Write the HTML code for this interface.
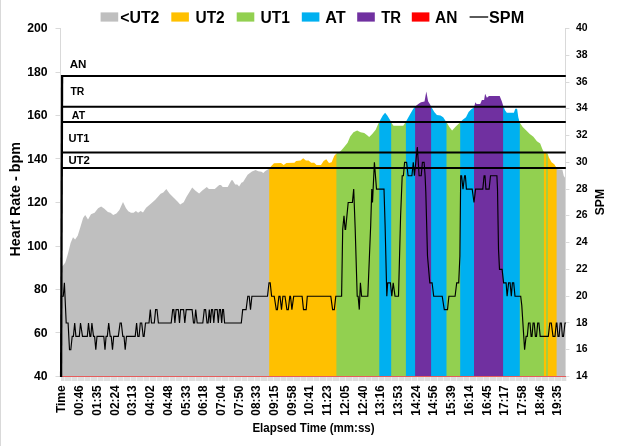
<!DOCTYPE html>
<html lang="en"><head><meta charset="utf-8"><title>Heart Rate and SPM by Elapsed Time</title>
<style>html,body{margin:0;padding:0;background:#fff;}body{width:620px;height:446px;overflow:hidden;}svg{display:block;}text{font-family:"Liberation Sans",sans-serif;font-weight:bold;fill:#000;}</style></head><body>
<svg width="620" height="446" viewBox="0 0 620 446">
<rect x="0" y="0" width="620" height="446" fill="#fff"/>
<rect x="0" y="0" width="1" height="446" fill="#d9d9d9"/>
<defs><mask id="hrmask" maskUnits="userSpaceOnUse" x="0" y="0" width="620" height="446"><polygon points="62.0,266.5 63.5,265.1 65.3,262.4 68.0,253.6 70.6,242.9 73.0,237.2 75.1,239.4 77.7,235.8 80.4,226.9 83.1,218.1 85.2,215.0 88.0,219.5 91.0,214.2 94.6,212.7 98.1,208.3 101.2,206.5 104.4,208.8 107.9,211.9 110.6,212.7 113.2,214.9 116.4,213.6 119.4,210.1 123.0,202.1 126.0,208.3 128.3,211.3 131.0,212.7 133.6,212.7 135.9,211.0 138.1,212.7 140.7,211.0 143.0,212.4 146.1,207.8 150.5,203.9 155.3,199.7 160.6,193.8 163.3,192.6 166.3,189.0 169.5,193.5 174.0,197.9 177.5,201.5 180.2,204.6 183.7,202.3 186.4,197.0 192.2,187.6 195.2,190.5 199.1,193.5 202.3,190.5 206.8,186.9 208.9,189.0 214.8,189.0 219.2,185.0 221.0,185.0 222.7,186.9 227.7,186.9 231.4,180.3 232.6,180.3 235.2,184.6 237.3,184.6 239.1,186.4 241.4,182.8 243.1,181.9 247.6,174.8 252.0,171.6 255.6,169.9 258.2,171.3 261.5,171.7 263.3,173.0 265.0,171.2 267.7,169.4 269.2,168.5 271.3,165.9 274.0,163.2 281.0,162.9 283.7,165.0 286.4,162.9 294.4,162.7 296.1,161.1 300.6,160.6 303.2,158.3 305.9,160.6 308.6,160.6 311.2,162.7 314.2,162.7 316.5,165.0 321.0,165.0 323.6,161.1 326.3,159.3 329.0,162.9 331.6,162.3 334.3,155.8 336.4,153.5 340.5,151.2 344.0,147.3 347.6,142.8 350.2,136.6 353.5,132.3 357.1,130.6 360.6,132.3 364.2,132.9 366.9,135.0 369.2,137.1 372.2,134.1 375.7,129.7 378.4,123.5 379.3,121.7 382.8,115.5 385.1,112.8 387.3,115.5 390.5,120.8 391.2,122.6 393.5,125.8 403.2,125.8 405.9,121.7 409.4,115.5 413.0,109.3 415.1,106.6 418.3,104.0 421.0,102.2 424.5,101.6 426.3,91.5 428.1,101.3 429.8,104.0 431.1,106.6 434.3,111.9 436.9,115.1 440.5,115.5 443.2,117.3 445.8,121.2 446.7,122.6 449.4,127.0 452.1,130.6 455.3,127.0 458.9,123.5 460.1,122.6 462.4,119.9 466.0,117.3 468.6,111.9 471.3,109.3 474.0,107.5 475.4,102.2 476.6,104.0 480.2,104.0 481.9,99.9 484.1,99.9 485.1,93.8 486.9,97.7 489.0,96.0 499.7,96.0 501.8,101.3 503.2,105.7 505.0,110.2 506.8,112.8 513.9,112.8 515.3,108.7 517.1,108.7 518.3,117.3 519.7,122.6 522.7,127.0 526.3,130.6 529.8,134.1 533.4,136.8 536.9,141.2 540.2,143.5 542.2,148.8 543.9,152.2 547.6,153.5 548.9,157.6 551.6,162.3 554.3,164.3 556.6,168.0 557.7,169.3 562.4,169.7 563.7,175.7 565.8,179.1 566.0,180.0 566.0,376.5 62.0,376.5" fill="#fff"/></mask></defs>
<g mask="url(#hrmask)">
<rect x="62.0" y="85" width="505.0" height="293" fill="#bfbfbf"/>
<rect x="269.2" y="85" width="297.8" height="293" fill="#ffc000"/>
<rect x="336.4" y="85" width="230.6" height="293" fill="#92d050"/>
<rect x="379.3" y="85" width="187.7" height="293" fill="#00b0f0"/>
<rect x="391.2" y="85" width="175.8" height="293" fill="#92d050"/>
<rect x="405.9" y="85" width="161.1" height="293" fill="#00b0f0"/>
<rect x="415.1" y="85" width="151.9" height="293" fill="#7030a0"/>
<rect x="431.1" y="85" width="135.9" height="293" fill="#00b0f0"/>
<rect x="446.5" y="85" width="120.5" height="293" fill="#92d050"/>
<rect x="460.2" y="85" width="106.8" height="293" fill="#00b0f0"/>
<rect x="474.0" y="85" width="93.0" height="293" fill="#7030a0"/>
<rect x="503.1" y="85" width="63.9" height="293" fill="#00b0f0"/>
<rect x="519.8" y="85" width="47.2" height="293" fill="#92d050"/>
<rect x="543.9" y="85" width="23.1" height="293" fill="#ffc000"/>
<rect x="546.2" y="85" width="20.8" height="293" fill="#92d050"/>
<rect x="547.8" y="85" width="19.2" height="293" fill="#ffc000"/>
<rect x="556.6" y="85" width="10.4" height="293" fill="#bfbfbf"/>
</g>
<g stroke="#d9d9d9" stroke-width="1" fill="none">
<line x1="60.5" y1="28.0" x2="60.5" y2="377.0"/>
<line x1="55.5" y1="376.5" x2="61" y2="376.5"/>
<line x1="55.5" y1="332.5" x2="61" y2="332.5"/>
<line x1="55.5" y1="289.5" x2="61" y2="289.5"/>
<line x1="55.5" y1="246.5" x2="61" y2="246.5"/>
<line x1="55.5" y1="202.5" x2="61" y2="202.5"/>
<line x1="55.5" y1="158.5" x2="61" y2="158.5"/>
<line x1="55.5" y1="115.5" x2="61" y2="115.5"/>
<line x1="55.5" y1="72.5" x2="61" y2="72.5"/>
<line x1="55.5" y1="28.5" x2="61" y2="28.5"/>
<line x1="565.5" y1="28.0" x2="565.5" y2="377.0"/>
<line x1="565" y1="376.5" x2="569.4" y2="376.5"/>
<line x1="565" y1="349.5" x2="569.4" y2="349.5"/>
<line x1="565" y1="322.5" x2="569.4" y2="322.5"/>
<line x1="565" y1="296.5" x2="569.4" y2="296.5"/>
<line x1="565" y1="269.5" x2="569.4" y2="269.5"/>
<line x1="565" y1="242.5" x2="569.4" y2="242.5"/>
<line x1="565" y1="215.5" x2="569.4" y2="215.5"/>
<line x1="565" y1="189.5" x2="569.4" y2="189.5"/>
<line x1="565" y1="162.5" x2="569.4" y2="162.5"/>
<line x1="565" y1="135.5" x2="569.4" y2="135.5"/>
<line x1="565" y1="108.5" x2="569.4" y2="108.5"/>
<line x1="565" y1="82.5" x2="569.4" y2="82.5"/>
<line x1="565" y1="55.5" x2="569.4" y2="55.5"/>
<line x1="565" y1="28.5" x2="569.4" y2="28.5"/>
</g>
<rect x="61" y="377" width="505.5" height="4" fill="#ececec"/>
<path d="M61.5 377V381M62.5 377V381M63.5 377V381M65.5 377V381M66.5 377V381M67.5 377V381M68.5 377V381M69.5 377V381M70.5 377V381M72.5 377V381M73.5 377V381M74.5 377V381M75.5 377V381M76.5 377V381M78.5 377V381M79.5 377V381M80.5 377V381M81.5 377V381M82.5 377V381M83.5 377V381M85.5 377V381M86.5 377V381M87.5 377V381M88.5 377V381M89.5 377V381M91.5 377V381M92.5 377V381M93.5 377V381M94.5 377V381M95.5 377V381M96.5 377V381M98.5 377V381M99.5 377V381M100.5 377V381M101.5 377V381M102.5 377V381M104.5 377V381M105.5 377V381M106.5 377V381M107.5 377V381M108.5 377V381M109.5 377V381M111.5 377V381M112.5 377V381M113.5 377V381M114.5 377V381M115.5 377V381M116.5 377V381M118.5 377V381M119.5 377V381M120.5 377V381M121.5 377V381M122.5 377V381M124.5 377V381M125.5 377V381M126.5 377V381M127.5 377V381M128.5 377V381M129.5 377V381M131.5 377V381M132.5 377V381M133.5 377V381M134.5 377V381M135.5 377V381M137.5 377V381M138.5 377V381M139.5 377V381M140.5 377V381M141.5 377V381M142.5 377V381M144.5 377V381M145.5 377V381M146.5 377V381M147.5 377V381M148.5 377V381M150.5 377V381M151.5 377V381M152.5 377V381M153.5 377V381M154.5 377V381M155.5 377V381M157.5 377V381M158.5 377V381M159.5 377V381M160.5 377V381M161.5 377V381M163.5 377V381M164.5 377V381M165.5 377V381M166.5 377V381M167.5 377V381M168.5 377V381M170.5 377V381M171.5 377V381M172.5 377V381M173.5 377V381M174.5 377V381M176.5 377V381M177.5 377V381M178.5 377V381M179.5 377V381M180.5 377V381M181.5 377V381M183.5 377V381M184.5 377V381M185.5 377V381M186.5 377V381M187.5 377V381M189.5 377V381M190.5 377V381M191.5 377V381M192.5 377V381M193.5 377V381M194.5 377V381M196.5 377V381M197.5 377V381M198.5 377V381M199.5 377V381M200.5 377V381M201.5 377V381M203.5 377V381M204.5 377V381M205.5 377V381M206.5 377V381M207.5 377V381M209.5 377V381M210.5 377V381M211.5 377V381M212.5 377V381M213.5 377V381M214.5 377V381M216.5 377V381M217.5 377V381M218.5 377V381M219.5 377V381M220.5 377V381M222.5 377V381M223.5 377V381M224.5 377V381M225.5 377V381M226.5 377V381M227.5 377V381M229.5 377V381M230.5 377V381M231.5 377V381M232.5 377V381M233.5 377V381M235.5 377V381M236.5 377V381M237.5 377V381M238.5 377V381M239.5 377V381M240.5 377V381M242.5 377V381M243.5 377V381M244.5 377V381M245.5 377V381M246.5 377V381M248.5 377V381M249.5 377V381M250.5 377V381M251.5 377V381M252.5 377V381M253.5 377V381M255.5 377V381M256.5 377V381M257.5 377V381M258.5 377V381M259.5 377V381M261.5 377V381M262.5 377V381M263.5 377V381M264.5 377V381M265.5 377V381M266.5 377V381M268.5 377V381M269.5 377V381M270.5 377V381M271.5 377V381M272.5 377V381M274.5 377V381M275.5 377V381M276.5 377V381M277.5 377V381M278.5 377V381M279.5 377V381M281.5 377V381M282.5 377V381M283.5 377V381M284.5 377V381M285.5 377V381M287.5 377V381M288.5 377V381M289.5 377V381M290.5 377V381M291.5 377V381M292.5 377V381M294.5 377V381M295.5 377V381M296.5 377V381M297.5 377V381M298.5 377V381M299.5 377V381M301.5 377V381M302.5 377V381M303.5 377V381M304.5 377V381M305.5 377V381M307.5 377V381M308.5 377V381M309.5 377V381M310.5 377V381M311.5 377V381M312.5 377V381M314.5 377V381M315.5 377V381M316.5 377V381M317.5 377V381M318.5 377V381M320.5 377V381M321.5 377V381M322.5 377V381M323.5 377V381M324.5 377V381M325.5 377V381M327.5 377V381M328.5 377V381M329.5 377V381M330.5 377V381M331.5 377V381M333.5 377V381M334.5 377V381M335.5 377V381M336.5 377V381M337.5 377V381M338.5 377V381M340.5 377V381M341.5 377V381M342.5 377V381M343.5 377V381M344.5 377V381M346.5 377V381M347.5 377V381M348.5 377V381M349.5 377V381M350.5 377V381M351.5 377V381M353.5 377V381M354.5 377V381M355.5 377V381M356.5 377V381M357.5 377V381M359.5 377V381M360.5 377V381M361.5 377V381M362.5 377V381M363.5 377V381M364.5 377V381M366.5 377V381M367.5 377V381M368.5 377V381M369.5 377V381M370.5 377V381M372.5 377V381M373.5 377V381M374.5 377V381M375.5 377V381M376.5 377V381M377.5 377V381M379.5 377V381M380.5 377V381M381.5 377V381M382.5 377V381M383.5 377V381M385.5 377V381M386.5 377V381M387.5 377V381M388.5 377V381M389.5 377V381M390.5 377V381M392.5 377V381M393.5 377V381M394.5 377V381M395.5 377V381M396.5 377V381M397.5 377V381M399.5 377V381M400.5 377V381M401.5 377V381M402.5 377V381M403.5 377V381M405.5 377V381M406.5 377V381M407.5 377V381M408.5 377V381M409.5 377V381M410.5 377V381M412.5 377V381M413.5 377V381M414.5 377V381M415.5 377V381M416.5 377V381M418.5 377V381M419.5 377V381M420.5 377V381M421.5 377V381M422.5 377V381M423.5 377V381M425.5 377V381M426.5 377V381M427.5 377V381M428.5 377V381M429.5 377V381M431.5 377V381M432.5 377V381M433.5 377V381M434.5 377V381M435.5 377V381M436.5 377V381M438.5 377V381M439.5 377V381M440.5 377V381M441.5 377V381M442.5 377V381M444.5 377V381M445.5 377V381M446.5 377V381M447.5 377V381M448.5 377V381M449.5 377V381M451.5 377V381M452.5 377V381M453.5 377V381M454.5 377V381M455.5 377V381M457.5 377V381M458.5 377V381M459.5 377V381M460.5 377V381M461.5 377V381M462.5 377V381M464.5 377V381M465.5 377V381M466.5 377V381M467.5 377V381M468.5 377V381M470.5 377V381M471.5 377V381M472.5 377V381M473.5 377V381M474.5 377V381M475.5 377V381M477.5 377V381M478.5 377V381M479.5 377V381M480.5 377V381M481.5 377V381M482.5 377V381M484.5 377V381M485.5 377V381M486.5 377V381M487.5 377V381M488.5 377V381M490.5 377V381M491.5 377V381M492.5 377V381M493.5 377V381M494.5 377V381M495.5 377V381M497.5 377V381M498.5 377V381M499.5 377V381M500.5 377V381M501.5 377V381M503.5 377V381M504.5 377V381M505.5 377V381M506.5 377V381M507.5 377V381M508.5 377V381M510.5 377V381M511.5 377V381M512.5 377V381M513.5 377V381M514.5 377V381M516.5 377V381M517.5 377V381M518.5 377V381M519.5 377V381M520.5 377V381M521.5 377V381M523.5 377V381M524.5 377V381M525.5 377V381M526.5 377V381M527.5 377V381M529.5 377V381M530.5 377V381M531.5 377V381M532.5 377V381M533.5 377V381M534.5 377V381M536.5 377V381M537.5 377V381M538.5 377V381M539.5 377V381M540.5 377V381M542.5 377V381M543.5 377V381M544.5 377V381M545.5 377V381M546.5 377V381M547.5 377V381M549.5 377V381M550.5 377V381M551.5 377V381M552.5 377V381M553.5 377V381M555.5 377V381M556.5 377V381M557.5 377V381M558.5 377V381M559.5 377V381M560.5 377V381M562.5 377V381M563.5 377V381M564.5 377V381M565.5 377V381" stroke="#dedede" stroke-width="1" fill="none" shape-rendering="crispEdges"/>
<line x1="61" y1="376.5" x2="566" y2="376.5" stroke="#e65c5c" stroke-width="1"/>
<g stroke="#000" stroke-width="2" fill="none">
<line x1="61.2" y1="75.9" x2="565.8" y2="75.9"/>
<line x1="61.2" y1="106.7" x2="565.8" y2="106.7"/>
<line x1="61.2" y1="122.0" x2="565.8" y2="122.0"/>
<line x1="61.2" y1="152.5" x2="565.8" y2="152.5"/>
<line x1="61.2" y1="168.1" x2="565.8" y2="168.1"/>
<line x1="62.1" y1="74.9" x2="61.1" y2="377" stroke-width="2.3"/>
</g>
<polyline points="61.9,296.2 63.3,296.2 64.4,282.8 66.2,323.0 68.1,323.0 69.5,349.7 70.8,349.7 72.2,336.3 73.4,336.3 74.7,323.0 75.9,336.3 79.3,336.3 80.5,323.0 82.5,336.3 87.3,336.3 88.5,323.0 89.9,336.3 90.8,336.3 91.9,323.0 93.5,336.3 94.6,336.3 95.8,349.7 97.0,336.3 103.8,336.3 105.0,349.7 106.1,336.3 107.3,336.3 108.7,323.0 110.2,336.3 111.2,336.3 112.5,349.7 113.7,336.3 118.3,336.3 120.1,323.0 121.3,323.0 122.8,336.3 124.0,336.3 125.2,349.7 126.5,336.3 135.2,336.3 136.6,323.0 137.8,336.3 139.1,336.3 140.3,323.0 141.7,323.0 143.2,336.3 144.1,336.3 145.5,323.0 149.0,323.0 150.3,309.6 151.5,323.0 154.3,323.0 155.6,309.6 157.0,309.6 158.4,323.0 165.0,323.0 165.0,323.0 171.2,323.0 172.7,309.6 173.8,309.6 174.9,323.0 176.1,309.6 178.3,309.6 179.5,323.0 180.6,309.6 183.6,309.6 184.8,323.0 186.2,309.6 192.1,309.6 193.5,323.0 194.6,323.0 195.7,309.6 197.2,323.0 202.8,323.0 204.3,309.6 205.6,309.6 207.0,323.0 208.1,323.0 209.3,309.6 210.4,323.0 211.5,309.6 212.6,309.6 213.8,323.0 214.9,309.6 217.2,309.6 218.3,323.0 219.4,309.6 220.5,309.6 221.7,323.0 222.6,309.6 223.5,309.6 224.6,323.0 224.8,323.0 241.3,323.0 242.7,309.6 246.1,309.6 247.8,296.2 249.2,296.2 250.5,309.6 251.9,296.2 265.7,296.2 267.5,296.2 269.0,282.8 270.2,282.8 271.6,296.2 274.2,296.2 276.3,309.6 277.4,309.6 278.9,296.2 280.0,296.2 281.5,309.6 282.9,296.2 285.0,296.2 286.9,309.6 288.3,309.6 289.8,296.2 290.5,296.2 291.9,309.6 293.7,296.2 302.1,296.2 303.5,309.6 306.2,309.6 307.3,296.2 330.8,296.2 332.6,309.6 334.3,309.6 335.8,296.2 341.6,296.2 342.7,229.3 344.0,215.9 345.1,229.3 345.6,229.3 348.2,202.5 352.4,202.5 353.7,189.1 355.2,229.3 357.2,296.2 358.1,296.2 359.3,309.6 360.4,282.8 361.6,296.2 367.8,296.2 370.7,225.3 371.8,189.1 372.5,202.5 374.4,162.3 376.5,189.1 384.0,189.1 385.1,225.3 386.8,296.2 387.7,282.8 390.4,282.8 391.8,296.2 393.2,282.8 395.0,296.2 398.5,296.2 400.6,215.9 402.2,175.7 403.4,175.7 404.6,162.3 406.6,162.3 408.1,175.7 411.9,175.7 413.3,162.3 414.4,175.7 415.8,162.3 417.3,147.0 418.3,162.3 419.1,175.7 421.2,175.7 422.4,162.3 424.1,162.3 425.1,175.7 425.8,191.8 427.5,256.0 429.8,282.8 432.1,282.8 433.7,296.2 442.2,296.2 444.3,309.6 447.5,309.6 448.9,296.2 455.1,296.2 456.7,282.8 458.7,282.8 459.9,256.0 460.7,175.7 461.6,175.7 463.0,189.1 464.6,175.7 465.4,175.7 466.4,189.1 472.2,189.1 474.0,202.5 475.6,189.1 482.8,189.1 484.1,175.7 485.0,175.7 485.9,189.1 489.1,189.1 490.5,175.7 496.9,175.7 497.5,189.1 498.5,249.3 499.5,269.4 502.1,269.4 503.6,282.8 506.1,282.8 507.1,296.2 508.6,282.8 510.1,282.8 511.3,296.2 512.4,282.8 513.7,282.8 515.0,296.2 520.7,296.2 521.8,305.6 524.6,349.7 526.1,336.3 527.3,336.3 528.5,323.0 530.0,323.0 531.1,336.3 532.0,336.3 533.1,323.0 534.2,323.0 535.4,336.3 536.5,336.3 537.7,323.0 538.9,323.0 540.2,336.3 548.3,336.3 549.8,323.0 551.3,323.0 553.0,336.3 555.0,336.3 556.3,323.0 556.9,323.0 558.0,336.3 559.1,336.3 560.2,323.0 561.3,323.0 562.4,336.3 563.5,336.3 565.0,323.0 566.0,323.0" fill="none" stroke="#000" stroke-width="1.15" stroke-linejoin="miter"/>
<rect x="100.6" y="12.4" width="17.6" height="9.2" fill="#bfbfbf"/>
<text x="120.2" y="22.5" font-size="16" text-anchor="start" textLength="39.2" lengthAdjust="spacingAndGlyphs">&lt;UT2</text>
<rect x="171.3" y="12.4" width="17.6" height="9.2" fill="#ffc000"/>
<text x="195.5" y="22.5" font-size="16" text-anchor="start" textLength="29.2" lengthAdjust="spacingAndGlyphs">UT2</text>
<rect x="236.7" y="12.4" width="17.6" height="9.2" fill="#92d050"/>
<text x="260.6" y="22.5" font-size="16" text-anchor="start" textLength="29.4" lengthAdjust="spacingAndGlyphs">UT1</text>
<rect x="301.8" y="12.4" width="17.6" height="9.2" fill="#00b0f0"/>
<text x="325.3" y="22.5" font-size="16" text-anchor="start" textLength="20.4" lengthAdjust="spacingAndGlyphs">AT</text>
<rect x="357.2" y="12.4" width="17.6" height="9.2" fill="#7030a0"/>
<text x="381.2" y="22.5" font-size="16" text-anchor="start" textLength="19.9" lengthAdjust="spacingAndGlyphs">TR</text>
<rect x="411.8" y="12.4" width="17.6" height="9.2" fill="#ff0000"/>
<text x="435.1" y="22.5" font-size="16" text-anchor="start" textLength="22.3" lengthAdjust="spacingAndGlyphs">AN</text>
<line x1="469.6" y1="17" x2="488.2" y2="17" stroke="#000" stroke-width="1.3"/>
<text x="489.1" y="22.5" font-size="16" text-anchor="start" textLength="35" lengthAdjust="spacingAndGlyphs">SPM</text>
<text x="47.6" y="380.0" font-size="12.8" text-anchor="end" textLength="13.6" lengthAdjust="spacingAndGlyphs">40</text>
<text x="47.6" y="336.5" font-size="12.8" text-anchor="end" textLength="13.6" lengthAdjust="spacingAndGlyphs">60</text>
<text x="47.6" y="293.0" font-size="12.8" text-anchor="end" textLength="13.6" lengthAdjust="spacingAndGlyphs">80</text>
<text x="47.6" y="249.5" font-size="12.8" text-anchor="end" textLength="20.4" lengthAdjust="spacingAndGlyphs">100</text>
<text x="47.6" y="206.0" font-size="12.8" text-anchor="end" textLength="20.4" lengthAdjust="spacingAndGlyphs">120</text>
<text x="47.6" y="162.5" font-size="12.8" text-anchor="end" textLength="20.4" lengthAdjust="spacingAndGlyphs">140</text>
<text x="47.6" y="119.0" font-size="12.8" text-anchor="end" textLength="20.4" lengthAdjust="spacingAndGlyphs">160</text>
<text x="47.6" y="75.5" font-size="12.8" text-anchor="end" textLength="20.4" lengthAdjust="spacingAndGlyphs">180</text>
<text x="47.6" y="32.0" font-size="12.8" text-anchor="end" textLength="20.4" lengthAdjust="spacingAndGlyphs">200</text>
<text x="575.9" y="379.1" font-size="10.0" text-anchor="start" textLength="11.6" lengthAdjust="spacingAndGlyphs">14</text>
<text x="575.9" y="352.33076923076925" font-size="10.0" text-anchor="start" textLength="11.6" lengthAdjust="spacingAndGlyphs">16</text>
<text x="575.9" y="325.5615384615385" font-size="10.0" text-anchor="start" textLength="11.6" lengthAdjust="spacingAndGlyphs">18</text>
<text x="575.9" y="298.7923076923077" font-size="10.0" text-anchor="start" textLength="11.6" lengthAdjust="spacingAndGlyphs">20</text>
<text x="575.9" y="272.0230769230769" font-size="10.0" text-anchor="start" textLength="11.6" lengthAdjust="spacingAndGlyphs">22</text>
<text x="575.9" y="245.25384615384615" font-size="10.0" text-anchor="start" textLength="11.6" lengthAdjust="spacingAndGlyphs">24</text>
<text x="575.9" y="218.48461538461538" font-size="10.0" text-anchor="start" textLength="11.6" lengthAdjust="spacingAndGlyphs">26</text>
<text x="575.9" y="191.7153846153846" font-size="10.0" text-anchor="start" textLength="11.6" lengthAdjust="spacingAndGlyphs">28</text>
<text x="575.9" y="164.94615384615383" font-size="10.0" text-anchor="start" textLength="11.6" lengthAdjust="spacingAndGlyphs">30</text>
<text x="575.9" y="138.17692307692306" font-size="10.0" text-anchor="start" textLength="11.6" lengthAdjust="spacingAndGlyphs">32</text>
<text x="575.9" y="111.40769230769232" font-size="10.0" text-anchor="start" textLength="11.6" lengthAdjust="spacingAndGlyphs">34</text>
<text x="575.9" y="84.63846153846154" font-size="10.0" text-anchor="start" textLength="11.6" lengthAdjust="spacingAndGlyphs">36</text>
<text x="575.9" y="57.869230769230775" font-size="10.0" text-anchor="start" textLength="11.6" lengthAdjust="spacingAndGlyphs">38</text>
<text x="575.9" y="31.1" font-size="10.0" text-anchor="start" textLength="11.6" lengthAdjust="spacingAndGlyphs">40</text>
<text x="69.7" y="67.6" font-size="11.2" text-anchor="start" textLength="16.8" lengthAdjust="spacingAndGlyphs">AN</text>
<text x="70.4" y="94.7" font-size="11.2" text-anchor="start" textLength="13.9" lengthAdjust="spacingAndGlyphs">TR</text>
<text x="71.8" y="118.5" font-size="11.2" text-anchor="start" textLength="13.3" lengthAdjust="spacingAndGlyphs">AT</text>
<text x="68.4" y="142.4" font-size="11.2" text-anchor="start" textLength="21.0" lengthAdjust="spacingAndGlyphs">UT1</text>
<text x="68.4" y="164.3" font-size="11.2" text-anchor="start" textLength="21.5" lengthAdjust="spacingAndGlyphs">UT2</text>
<text transform="translate(19.5,256.5) rotate(-90)" font-size="13.8" textLength="114.4" lengthAdjust="spacingAndGlyphs">Heart Rate - bpm</text>
<text transform="translate(603.8,215.2) rotate(-90)" font-size="12.8" textLength="26.2" lengthAdjust="spacingAndGlyphs">SPM</text>
<text x="252.4" y="431.9" font-size="12.8" text-anchor="start" textLength="122.2" lengthAdjust="spacingAndGlyphs">Elapsed Time (mm:ss)</text>
<text transform="translate(65.2,385.3) rotate(-90)" font-size="12.9" text-anchor="end" textLength="27.8" lengthAdjust="spacingAndGlyphs">Time</text>
<text transform="translate(83.2,385.3) rotate(-90)" font-size="12.9" text-anchor="end" textLength="30.4" lengthAdjust="spacingAndGlyphs">00:46</text>
<text transform="translate(100.9,385.3) rotate(-90)" font-size="12.9" text-anchor="end" textLength="30.4" lengthAdjust="spacingAndGlyphs">01:35</text>
<text transform="translate(118.6,385.3) rotate(-90)" font-size="12.9" text-anchor="end" textLength="30.4" lengthAdjust="spacingAndGlyphs">02:24</text>
<text transform="translate(136.3,385.3) rotate(-90)" font-size="12.9" text-anchor="end" textLength="30.4" lengthAdjust="spacingAndGlyphs">03:13</text>
<text transform="translate(154.1,385.3) rotate(-90)" font-size="12.9" text-anchor="end" textLength="30.4" lengthAdjust="spacingAndGlyphs">04:02</text>
<text transform="translate(171.8,385.3) rotate(-90)" font-size="12.9" text-anchor="end" textLength="30.4" lengthAdjust="spacingAndGlyphs">04:48</text>
<text transform="translate(189.5,385.3) rotate(-90)" font-size="12.9" text-anchor="end" textLength="30.4" lengthAdjust="spacingAndGlyphs">05:33</text>
<text transform="translate(207.2,385.3) rotate(-90)" font-size="12.9" text-anchor="end" textLength="30.4" lengthAdjust="spacingAndGlyphs">06:18</text>
<text transform="translate(224.9,385.3) rotate(-90)" font-size="12.9" text-anchor="end" textLength="30.4" lengthAdjust="spacingAndGlyphs">07:04</text>
<text transform="translate(242.6,385.3) rotate(-90)" font-size="12.9" text-anchor="end" textLength="30.4" lengthAdjust="spacingAndGlyphs">07:50</text>
<text transform="translate(260.3,385.3) rotate(-90)" font-size="12.9" text-anchor="end" textLength="30.4" lengthAdjust="spacingAndGlyphs">08:33</text>
<text transform="translate(278.0,385.3) rotate(-90)" font-size="12.9" text-anchor="end" textLength="30.4" lengthAdjust="spacingAndGlyphs">09:15</text>
<text transform="translate(295.7,385.3) rotate(-90)" font-size="12.9" text-anchor="end" textLength="30.4" lengthAdjust="spacingAndGlyphs">09:58</text>
<text transform="translate(313.4,385.3) rotate(-90)" font-size="12.9" text-anchor="end" textLength="30.4" lengthAdjust="spacingAndGlyphs">10:41</text>
<text transform="translate(331.2,385.3) rotate(-90)" font-size="12.9" text-anchor="end" textLength="30.4" lengthAdjust="spacingAndGlyphs">11:23</text>
<text transform="translate(348.9,385.3) rotate(-90)" font-size="12.9" text-anchor="end" textLength="30.4" lengthAdjust="spacingAndGlyphs">12:05</text>
<text transform="translate(366.6,385.3) rotate(-90)" font-size="12.9" text-anchor="end" textLength="30.4" lengthAdjust="spacingAndGlyphs">12:40</text>
<text transform="translate(384.3,385.3) rotate(-90)" font-size="12.9" text-anchor="end" textLength="30.4" lengthAdjust="spacingAndGlyphs">13:16</text>
<text transform="translate(402.0,385.3) rotate(-90)" font-size="12.9" text-anchor="end" textLength="30.4" lengthAdjust="spacingAndGlyphs">13:53</text>
<text transform="translate(419.7,385.3) rotate(-90)" font-size="12.9" text-anchor="end" textLength="30.4" lengthAdjust="spacingAndGlyphs">14:24</text>
<text transform="translate(437.4,385.3) rotate(-90)" font-size="12.9" text-anchor="end" textLength="30.4" lengthAdjust="spacingAndGlyphs">14:56</text>
<text transform="translate(455.1,385.3) rotate(-90)" font-size="12.9" text-anchor="end" textLength="30.4" lengthAdjust="spacingAndGlyphs">15:39</text>
<text transform="translate(472.8,385.3) rotate(-90)" font-size="12.9" text-anchor="end" textLength="30.4" lengthAdjust="spacingAndGlyphs">16:14</text>
<text transform="translate(490.5,385.3) rotate(-90)" font-size="12.9" text-anchor="end" textLength="30.4" lengthAdjust="spacingAndGlyphs">16:45</text>
<text transform="translate(508.2,385.3) rotate(-90)" font-size="12.9" text-anchor="end" textLength="30.4" lengthAdjust="spacingAndGlyphs">17:17</text>
<text transform="translate(526.0,385.3) rotate(-90)" font-size="12.9" text-anchor="end" textLength="30.4" lengthAdjust="spacingAndGlyphs">17:58</text>
<text transform="translate(543.7,385.3) rotate(-90)" font-size="12.9" text-anchor="end" textLength="30.4" lengthAdjust="spacingAndGlyphs">18:46</text>
<text transform="translate(561.4,385.3) rotate(-90)" font-size="12.9" text-anchor="end" textLength="30.4" lengthAdjust="spacingAndGlyphs">19:35</text>
</svg></body></html>
